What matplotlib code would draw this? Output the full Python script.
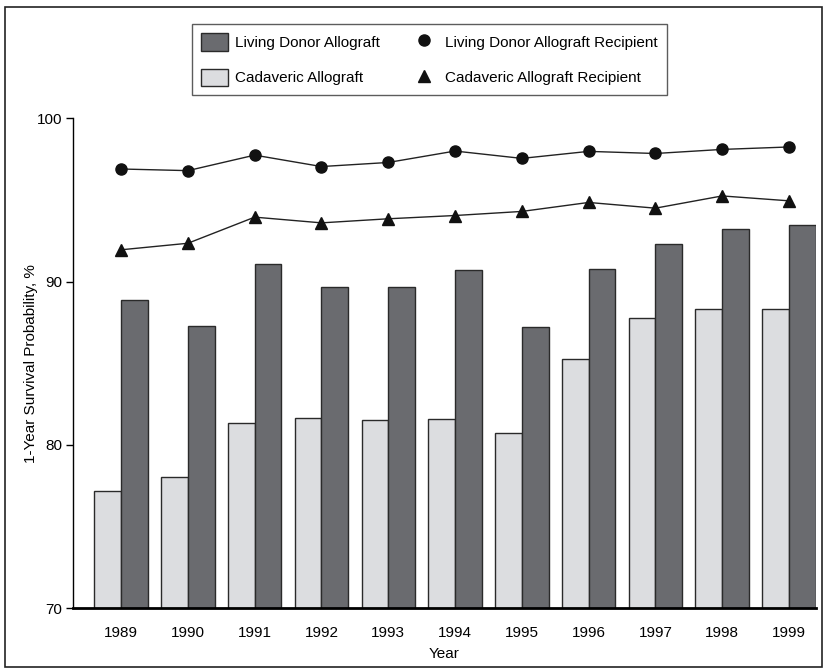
import matplotlib
matplotlib.use("Agg")
import matplotlib.pyplot as plt
from matplotlib import font_manager
from matplotlib.patches import Rectangle
from matplotlib.lines import Line2D
import numpy as np

# condensed font if we have it
names = {f.name for f in font_manager.fontManager.ttflist}
if "Liberation Sans Narrow" in names:
    plt.rcParams["font.family"] = ["Liberation Sans Narrow", "DejaVu Sans"]
    FS = 12
else:
    plt.rcParams["font.family"] = ["Liberation Sans", "DejaVu Sans"]
    FS = 11

years = [1989, 1990, 1991, 1992, 1993, 1994, 1995, 1996, 1997, 1998, 1999]
cadaveric_graft = [77.2, 78.0, 81.35, 81.65, 81.55, 81.6, 80.7, 85.25, 87.8, 88.3, 88.3]
living_graft = [88.9, 87.25, 91.05, 89.7, 89.65, 90.7, 87.2, 90.75, 92.3, 93.25, 93.45]
living_recipient = [96.9, 96.8, 97.75, 97.05, 97.3, 98.0, 97.55, 97.98, 97.85, 98.1, 98.25]
cadaveric_recipient = [91.95, 92.35, 93.95, 93.6, 93.85, 94.05, 94.3, 94.85, 94.5, 95.25, 94.95]

DARK = "#6a6b6f"
LIGHT = "#dcdde0"
EDGE = "#2a2a2a"

fig = plt.figure(figsize=(8.27, 6.72), dpi=100)
ax = fig.add_axes([0.0887, 0.0952, 0.8976, 0.7286])

x = np.array(years)
w = 0.4
ax.bar(x - w / 2, cadaveric_graft, width=w, bottom=0, color=LIGHT,
       edgecolor=EDGE, linewidth=1.0, zorder=2)
ax.bar(x + w / 2, living_graft, width=w, bottom=0, color=DARK,
       edgecolor=EDGE, linewidth=1.0, zorder=2)

ax.plot(x, living_recipient, color="#222222", linewidth=1.0, marker="o",
        markersize=8, markerfacecolor="#111111", markeredgecolor="#111111", zorder=3)
ax.plot(x, cadaveric_recipient, color="#222222", linewidth=1.0, marker="^",
        markersize=9, markerfacecolor="#111111", markeredgecolor="#111111", zorder=3)

ax.set_ylim(70, 100)
ax.set_xlim(1988.285, 1999.4)
ax.set_yticks([70, 80, 90, 100])
ax.set_xticks(years)
ax.tick_params(axis="x", length=0, labelsize=FS, pad=13)
ax.tick_params(axis="y", length=5, width=1, labelsize=FS, pad=3)

for s in ["top", "right"]:
    ax.spines[s].set_visible(False)
ax.spines["bottom"].set_linewidth(2.0)
ax.spines["bottom"].set_zorder(4)
ax.spines["left"].set_linewidth(1.0)

ax.set_xlabel("Year", fontsize=FS, labelpad=5)
ax.set_ylabel("1-Year Survival Probability, %", fontsize=FS)
ax.yaxis.set_label_coords(-0.0475, 0.5)

handles = [
    Rectangle((0, 0), 1, 1, facecolor=DARK, edgecolor=EDGE, linewidth=1),
    Rectangle((0, 0), 1, 1, facecolor=LIGHT, edgecolor=EDGE, linewidth=1),
    Line2D([], [], linestyle="none", marker="o", markersize=8, color="#111111"),
    Line2D([], [], linestyle="none", marker="^", markersize=9, color="#111111"),
]
labels = ["Living Donor Allograft", "Cadaveric Allograft",
          "Living Donor Allograft Recipient", "Cadaveric Allograft Recipient"]
leg = fig.legend(handles, labels, ncol=2, loc="center", bbox_to_anchor=(0.519, 0.911),
                 frameon=True, fancybox=False, edgecolor="#333333", fontsize=FS,
                 handlelength=1.75, handleheight=1.4, handletextpad=0.5,
                 columnspacing=2.0, labelspacing=1.15, borderpad=0.6,
                 borderaxespad=0)
leg.get_frame().set_linewidth(1.0)

# outer frame around the whole figure
fig.patches.append(Rectangle((0.006, 0.008), 0.988, 0.982, transform=fig.transFigure,
                             fill=False, edgecolor="#222222", linewidth=1.2))

fig.savefig("out.png", dpi=100)
